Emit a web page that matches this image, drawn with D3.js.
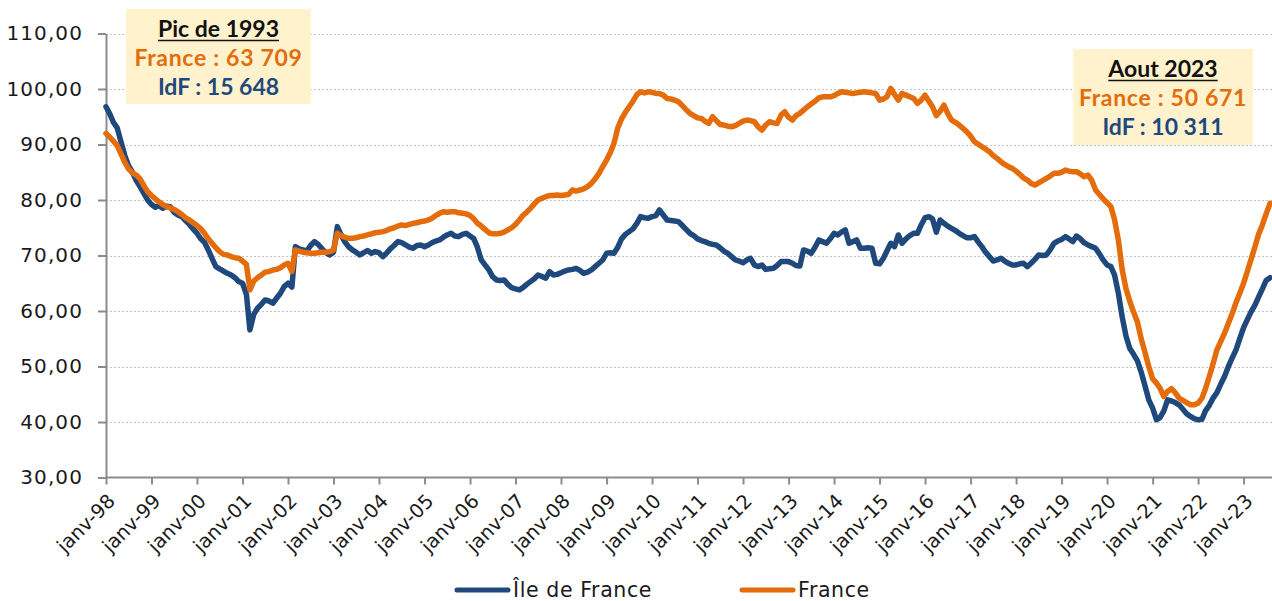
<!DOCTYPE html>
<html>
<head>
<meta charset="utf-8">
<script src="https://cdn.jsdelivr.net/npm/d3@7"></script>
<style>
  body { margin: 0; background: #fff; }
  svg { display: block; }
</style>
</head>
<body>
<div id="chart"></div>
<script>
// monthly series, janv-1998 .. aout-2023
var idf = [
  96.8, 95.5, 94.0, 93.0, 90.5, 88.0, 86.2, 85.0, 83.5, 82.4, 81.2, 80.0,
  79.2, 78.7, 79.0, 78.5, 78.9, 78.8, 77.8, 77.3, 77.0, 76.3, 75.6, 74.8,
  74.0, 73.0, 72.4, 71.0, 69.5, 68.0, 67.6, 67.2, 66.8, 66.5, 66.0, 65.3,
  65.0, 63.0, 56.6, 59.4, 60.5, 61.2, 62.0, 61.8, 61.4, 62.3, 63.2, 64.4,
  65.0, 64.3, 71.6, 71.2, 71.0, 70.8, 71.8, 72.5, 72.0, 71.2, 70.5, 70.1,
  70.6, 75.2, 73.8, 72.5, 71.6, 71.0, 70.6, 70.1, 70.5, 70.9, 70.4, 70.7,
  70.5, 69.8, 70.4, 71.2, 71.8, 72.5, 72.3, 71.9, 71.5, 71.3, 71.8, 71.9,
  71.6, 71.9, 72.3, 72.6, 72.8, 73.3, 73.7, 74.0, 73.5, 73.4, 73.8, 74.0,
  73.5, 73.0, 71.5, 69.2, 68.3, 67.4, 66.2, 65.6, 65.5, 65.6, 64.8, 64.2,
  64.0, 63.8, 64.2, 64.8, 65.3, 65.8, 66.5, 66.2, 65.9, 67.1, 66.5, 66.6,
  66.9, 67.2, 67.4, 67.5, 67.7, 67.3, 66.8, 67.0, 67.4, 68.0, 68.6, 69.2,
  70.4, 70.5, 70.4, 71.5, 73.0, 73.8, 74.3, 74.8, 75.8, 77.0, 76.8, 76.7,
  77.0, 77.2, 78.2, 77.3, 76.4, 76.3, 76.2, 76.1, 75.4, 74.7, 74.0, 73.6,
  73.0, 72.7, 72.5, 72.2, 72.0, 71.9, 71.4, 70.8, 70.4, 69.8, 69.2, 69.0,
  68.7, 69.2, 69.5, 68.3, 68.0, 68.3, 67.5, 67.6, 67.7, 68.2, 68.9, 68.9,
  68.9, 68.6, 68.2, 68.1, 71.0, 70.8, 70.4, 71.5, 72.8, 72.5, 72.2, 73.0,
  74.0, 73.7, 74.2, 74.6, 72.2, 72.5, 72.8, 71.3, 71.3, 71.4, 71.3, 68.6,
  68.5, 69.5, 70.8, 72.2, 71.6, 73.7, 72.2, 73.0, 73.6, 74.0, 74.0, 75.5,
  76.8, 77.0, 76.6, 74.2, 76.4, 75.8, 75.3, 74.9, 74.5, 74.0, 73.6, 73.2,
  73.2, 73.4, 72.5, 71.6, 70.6, 69.8, 69.0, 69.2, 69.5, 69.0, 68.6, 68.3,
  68.3, 68.5, 68.6, 68.0, 68.6, 69.3, 70.1, 70.0, 70.1, 71.0, 72.2, 72.6,
  72.9, 73.4, 73.0, 72.5, 73.5, 73.0, 72.3, 71.9, 71.6, 71.3, 70.3, 69.2,
  68.3, 68.0, 66.5, 63.2, 59.0, 55.5, 53.3, 52.2, 51.0, 49.0, 46.5, 44.0,
  42.5, 40.4, 40.8, 42.0, 44.0, 43.8, 43.5, 43.1, 42.3, 41.5, 41.0, 40.6,
  40.4, 40.5, 42.0, 43.0, 44.3, 45.3, 46.8, 48.2, 50.0, 51.5, 53.0, 55.0,
  57.0, 58.5, 59.8, 61.0, 62.5, 64.0, 65.5, 66.0
];

var france = [
  92.0, 91.3, 90.6, 89.8, 88.3, 86.8, 85.6, 84.9, 84.5, 83.8, 82.6, 81.5,
  80.8, 80.2, 79.7, 79.2, 78.8, 78.6, 78.3, 77.9, 77.4, 76.8, 76.4, 75.9,
  75.4, 74.8, 74.0, 73.0, 72.2, 71.4, 70.7, 70.2, 70.1, 69.8, 69.6, 69.5,
  69.0, 68.4, 63.8, 65.4, 66.0, 66.5, 67.0, 67.1, 67.4, 67.5, 67.8, 68.3,
  68.6, 67.1, 71.0, 70.8, 70.6, 70.5, 70.4, 70.4, 70.5, 70.6, 70.6, 70.7,
  71.0, 74.0, 73.6, 73.3, 73.1, 73.1, 73.2, 73.4, 73.5, 73.7, 73.9, 74.1,
  74.2, 74.3, 74.5, 74.8, 75.0, 75.3, 75.5, 75.4, 75.6, 75.8, 75.9, 76.1,
  76.2, 76.4, 76.7, 77.2, 77.6, 77.9, 77.8, 77.9, 77.9, 77.7, 77.6, 77.5,
  77.2, 76.6, 75.8, 75.3, 74.7, 74.1, 73.9, 73.9, 74.0, 74.2, 74.6, 75.0,
  75.6, 76.4, 77.2, 77.8, 78.5, 79.3, 80.0, 80.3, 80.6, 80.8, 80.8, 80.9,
  80.8, 80.9, 81.0, 81.8, 81.6, 81.8, 82.0, 82.4, 83.0, 83.8, 84.8, 86.0,
  87.2, 88.6, 90.2, 93.0, 94.6, 95.8, 96.8, 97.8, 99.0, 99.5, 99.3, 99.5,
  99.4, 99.2, 99.2, 98.9, 98.3, 98.2, 98.0, 97.7, 97.0, 96.3, 95.6, 95.2,
  94.8, 94.7, 94.2, 93.8, 95.0, 94.3, 93.6, 93.5, 93.3, 93.2, 93.4, 93.8,
  94.2, 94.4, 94.3, 94.1, 93.2, 92.6, 93.5, 94.1, 93.9, 93.8, 95.3, 95.9,
  94.9, 94.4, 95.2, 95.6, 96.2, 96.8, 97.3, 97.8, 98.4, 98.6, 98.6, 98.6,
  98.8, 99.2, 99.5, 99.4, 99.3, 99.2, 99.3, 99.4, 99.5, 99.4, 99.3, 99.2,
  98.0, 98.2, 98.6, 100.1, 99.0, 98.0, 99.2, 98.9, 98.6, 98.3, 97.4, 98.0,
  98.9, 97.8, 96.8, 95.2, 96.0, 97.1, 95.6, 94.4, 94.0, 93.5, 92.9, 92.3,
  91.5, 90.5, 90.1, 89.6, 89.2, 88.7, 88.0, 87.5, 86.9, 86.4, 86.0, 85.7,
  85.2, 84.6, 84.0, 83.6, 83.0, 82.7, 83.1, 83.5, 83.9, 84.3, 84.8, 84.8,
  85.0, 85.4, 85.2, 85.1, 85.1, 84.7, 84.2, 84.5, 83.5, 81.8, 81.0, 80.2,
  79.5, 78.8, 76.5, 72.8, 67.5, 64.0, 61.8, 59.8, 58.0, 55.0, 52.5, 50.0,
  47.8, 47.0, 46.1, 44.6, 45.5, 46.0, 45.3, 44.3, 43.9, 43.5, 43.1, 43.1,
  43.4, 44.3, 46.0, 48.2, 50.5, 53.0, 54.5, 56.0, 57.8, 59.5, 61.5, 63.2,
  65.0, 67.2, 69.2, 71.5, 73.8, 75.5, 77.5, 79.4
];

var seriesNames = ["Île de France", "France"];
var yTicks = [30, 40, 50, 60, 70, 80, 90, 100, 110];

var note1993 = ["Pic de 1993", "France : 63 709", "IdF : 15 648"];
var note2023 = ["Aout 2023", "France : 50 671", "IdF : 10 311"];

var blue = "#1f497d";
var orange = "#e46c0a";

function init() {
    var w = 1272;
    var h = 601;

    var start = new Date(1998, 0, 1);
    var dates = d3.range(idf.length).map(function(i) {
        return d3.timeMonth.offset(start, i);
    });

    var xScale = d3.scaleTime()
                .domain([dates[0], dates[dates.length - 1]])
                .range([106, 1270]);

    var yScale = d3.scaleLinear()
                .domain([30, 110])
                .range([477.5, 33.5]);

    var svg = d3.select("#chart")
                .append("svg")
                .attr("width", w)
                .attr("height", h);

    // grid
    svg.append("g")
        .selectAll("line")
        .data(yTicks.filter(function(d) { return d > 30; }))
        .enter()
        .append("line")
        .attr("x1", 106)
        .attr("x2", w)
        .attr("y1", function(d) { return Math.round(yScale(d)) + 0.5; })
        .attr("y2", function(d) { return Math.round(yScale(d)) + 0.5; })
        .attr("stroke", "#c4c4c4")
        .attr("stroke-width", 1)
        .attr("stroke-dasharray", "2,2");

    // y axis
    var yAxis = d3.axisLeft(yScale)
                .tickValues(yTicks)
                .tickSize(8)
                .tickSizeOuter(0)
                .tickPadding(15)
                .tickFormat(function(d) { return d3.format(".2f")(d).replace(".", ","); });

    var gy = svg.append("g")
        .attr("transform", "translate(106,0)")
        .call(yAxis);
    gy.select(".domain").attr("stroke", "#8c8c8c").attr("stroke-width", 2);
    gy.selectAll(".tick line").attr("stroke", "#8c8c8c").attr("stroke-width", 2);
    gy.selectAll("text")
        .attr("font-family", "DejaVu Sans")
        .attr("font-size", "20px")
        .attr("letter-spacing", "1.1px")
        .attr("fill", "#1a1a1a");

    // x axis
    var xAxis = d3.axisBottom(xScale)
                .ticks(d3.timeYear.every(1))
                .tickSize(7)
                .tickSizeOuter(0)
                .tickFormat(function(d) { return "janv-" + d3.timeFormat("%y")(d); });

    var gx = svg.append("g")
        .attr("transform", "translate(0," + yScale(30) + ")")
        .call(xAxis);
    gx.select(".domain").attr("stroke", "#8c8c8c").attr("stroke-width", 2)
        .attr("d", "M106,0H" + w);
    gx.selectAll(".tick line").attr("stroke", "#8c8c8c").attr("stroke-width", 2);
    gx.selectAll("text")
        .attr("font-family", "DejaVu Sans")
        .attr("font-size", "19.5px")
        .attr("fill", "#1a1a1a")
        .attr("text-anchor", "end")
        .attr("dy", "0.35em")
        .attr("transform", "translate(5,20) rotate(-45)")
        .attr("y", 0)
        .attr("x", 0);

    // annotation boxes
    function note(lines, cx, top, bw, bh) {
        var g = svg.append("g");
        g.append("rect")
            .attr("x", cx - bw / 2)
            .attr("y", top)
            .attr("width", bw)
            .attr("height", bh)
            .attr("fill", "#fff2cc");
        var colors = ["#111", orange, blue];
        lines.forEach(function(t, i) {
            var txt = g.append("text")
                .attr("x", cx)
                .attr("y", top + 28 + i * 29)
                .attr("text-anchor", "middle")
                .attr("font-family", "Lato")
                .attr("font-weight", "bold")
                .attr("font-size", "23px")
                .attr("letter-spacing", i == 1 ? "0.7px" : "0px")
                .attr("fill", colors[i])
                .text(t);
            if (i == 0) {
                var len = txt.node().getComputedTextLength();
                g.append("line")
                    .attr("x1", cx - len / 2)
                    .attr("x2", cx + len / 2)
                    .attr("y1", top + 31.5)
                    .attr("y2", top + 31.5)
                    .attr("stroke", "#111")
                    .attr("stroke-width", 1.5);
            }
        });
    }
    note(note1993, 218.5, 9, 185, 95);
    note(note2023, 1163, 49, 180, 96);

    // lines
    var line = d3.line()
                .x(function(d, i) { return xScale(dates[i]); })
                .y(function(d) { return yScale(d); });

    svg.append("path")
        .datum(idf)
        .attr("d", line)
        .attr("fill", "none")
        .attr("stroke", blue)
        .attr("stroke-width", 5.5)
        .attr("stroke-linejoin", "round")
        .attr("stroke-linecap", "round");

    svg.append("path")
        .datum(france)
        .attr("d", line)
        .attr("fill", "none")
        .attr("stroke", orange)
        .attr("stroke-width", 5.5)
        .attr("stroke-linejoin", "round")
        .attr("stroke-linecap", "round");

    // legend
    var legend = svg.append("g");
    var lx = [455, 740];
    var lc = [blue, orange];
    seriesNames.forEach(function(name, i) {
        legend.append("line")
            .attr("x1", lx[i] + 2)
            .attr("x2", lx[i] + 53)
            .attr("y1", 590)
            .attr("y2", 590)
            .attr("stroke", lc[i])
            .attr("stroke-width", 5)
            .attr("stroke-linecap", "round");
        legend.append("text")
            .attr("x", lx[i] + 58)
            .attr("y", 590)
            .attr("dy", "0.35em")
            .attr("font-family", "DejaVu Sans")
            .attr("font-size", "20.5px")
            .attr("letter-spacing", "0.6px")
            .attr("fill", "#1a1a1a")
            .text(name);
    });
}

window.onload = init;
</script>
</body>
</html>
